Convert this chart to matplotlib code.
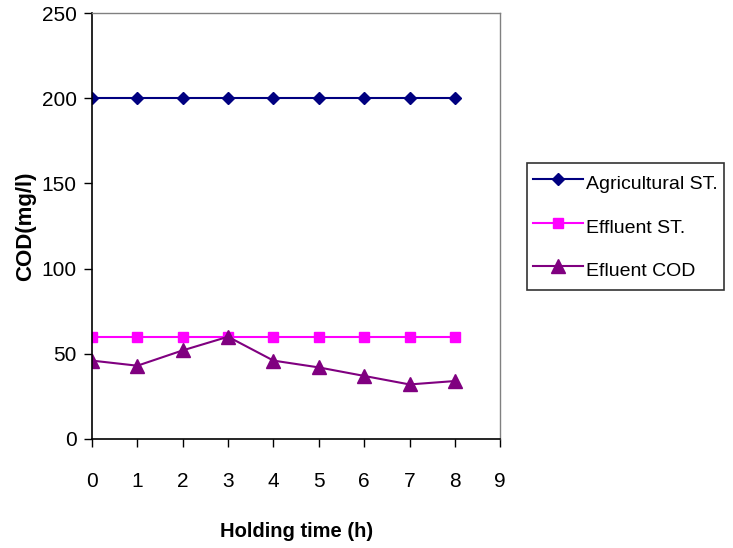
import numpy as np
import matplotlib
matplotlib.use('Agg')
from matplotlib import pyplot as plt

plt.rcParams['font.family'] = ['Liberation Sans', 'DejaVu Sans']

#holding time (h)
hours = [0, 1, 2, 3, 4, 5, 6, 7, 8]
#COD values (mg/l)
agri_st = [200, 200, 200, 200, 200, 200, 200, 200, 200]
effl_st = [60, 60, 60, 60, 60, 60, 60, 60, 60]
effl_cod = [46, 43, 52, 60, 46, 42, 37, 32, 34]

fig = plt.figure(figsize=(7.33, 5.48), dpi=100)
ax = fig.add_axes([0.1255, 0.199, 0.557, 0.777])

ax.plot(hours, agri_st, color='#000080', marker='D', markersize=6.5, lw=1.5, label='Agricultural ST.')
ax.plot(hours, effl_st, color='#FF00FF', marker='s', markersize=7, lw=1.5, label='Effluent ST.')
ax.plot(hours, effl_cod, color='#800080', marker='^', markersize=10, lw=1.5, label='Efluent COD')

ax.set_xlim(0, 9)
ax.set_ylim(0, 250)
ax.set_xticks(range(10))
ax.set_yticks(range(0, 251, 50))
ax.tick_params(axis='x', direction='out', length=6, width=1, pad=18, labelsize=15)
ax.tick_params(axis='y', direction='out', length=6, width=1, pad=5, labelsize=15)

for s in ['left', 'bottom']:
    ax.spines[s].set_color('black')
    ax.spines[s].set_linewidth(1.2)
for s in ['top', 'right']:
    ax.spines[s].set_color('#808080')
    ax.spines[s].set_linewidth(1)

ax.set_ylabel('COD(mg/l)', fontsize=16, fontweight='bold', labelpad=4)
ax.set_xlabel('Holding time (h)', fontsize=14.5, fontweight='bold', labelpad=22)

leg = ax.legend(loc='upper left', bbox_to_anchor=(527/733, 1-163/548),
                bbox_transform=fig.transFigure, fontsize=14,
                frameon=True, fancybox=False, edgecolor='black', handlelength=2.6,
                handleheight=1.9, borderpad=0.3, labelspacing=0.75,
                handletextpad=0.15, borderaxespad=0)
leg.get_frame().set_linewidth(1.2)

plt.savefig('out.png', dpi=100)
